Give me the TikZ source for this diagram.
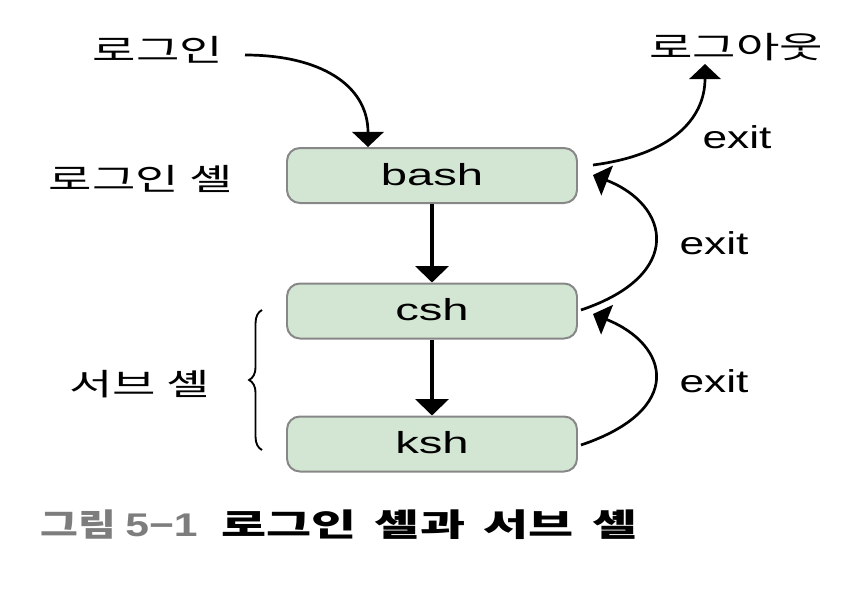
\documentclass[tikz,border=0pt]{standalone}
\usepackage{fontspec}
\usepackage{graphicx}
\setmainfont{Liberation Sans}
\newfontfamily\kr[FakeStretch=1.55]{Noto Sans CJK KR}
\newfontfamily\krcap{Noto Sans CJK KR}
\newfontfamily\boxfont[FakeStretch=1.55]{Liberation Sans}
\newfontfamily\exitfont[FakeStretch=1.4]{Liberation Sans}
\usetikzlibrary{arrows.meta,decorations.pathreplacing}
\definecolor{boxfill}{RGB}{211,229,211}
\definecolor{boxline}{RGB}{135,135,135}
\definecolor{capgray}{RGB}{125,125,125}
\tikzset{
  shellbox/.style={draw=boxline, line width=1.7pt, fill=boxfill, rounded corners=11pt,
    minimum width=290*0.03cm, minimum height=55*0.03cm, inner sep=0pt},
  boxtext/.style={font=\boxfont\fontsize{26}{28}\selectfont, inner sep=0pt, anchor=base},
  krlabel/.style={font=\kr\fontsize{26}{28}\selectfont, inner sep=0pt},
  exitlabel/.style={font=\exitfont\fontsize{27}{29}\selectfont, inner sep=0pt, anchor=base},
  thickarr/.style={line width=3.6pt, -{Triangle[length=14pt,width=28pt]}},
  curvarr/.style={line width=2.3pt, -{Triangle[length=13pt,width=27pt]}},
}
\begin{document}
\begin{tikzpicture}[x=0.03cm,y=-0.03cm]
\useasboundingbox (0,0) rectangle (856,604);
\node[shellbox] (bash) at (432,175.5) {};
\node[shellbox] (csh) at (432,311) {};
\node[shellbox] (ksh) at (432,444) {};
\node[boxtext] (tbash) at (432,185) {bash};
\node[boxtext] (tcsh) at (432,320) {csh};
\node[boxtext] (tksh) at (432,453) {ksh};
\node[krlabel] (login) at (158,50) {로그인};
\node[krlabel] (logout) at (736,47) {로그아웃};
\node[krlabel] (loginsh) at (141,179) {로그인 셸};
\node[krlabel] (subsh) at (140,384) {서브 셸};
\node[exitlabel] (e1) at (737,148) {exit};
\node[exitlabel] (e2) at (714,254) {exit};
\node[exitlabel] (e3) at (714,392) {exit};
\coordinate (a0) at (245,55);
\coordinate (a1) at (368,147);
\draw[curvarr] (a0) .. controls (320,55) and (368,85) .. (a1);
\draw[thickarr] (bash.south) -- (csh.north);
\draw[thickarr] (csh.south) -- (ksh.north);
\coordinate (b0) at (593,165);
\coordinate (b1) at (705,64);
\draw[curvarr] (b0) .. controls (670,155) and (705,120) .. (b1);
\coordinate (c0) at (581,310);
\coordinate (c1) at (593,175);
\draw[curvarr] (c0) .. controls (685,275) and (670,205) .. (c1);
\coordinate (d0) at (581,445);
\coordinate (d1) at (593,314);
\draw[curvarr] (d0) .. controls (685,410) and (670,345) .. (d1);
\coordinate (br0) at (262,450);
\coordinate (br1) at (262,310);
\draw[line width=1.6pt, decorate, decoration={brace, amplitude=11pt}] (br0) -- (br1);
\node[anchor=west, inner sep=0pt, font=\krcap\bfseries\fontsize{27}{29}\selectfont] (cap) at (40,525)
  {\scalebox{1.3}[1]{\textcolor{capgray}{그림 {\rmfamily\bfseries\fontsize{28}{30}\selectfont 5−1}}}\hspace{20pt}\scalebox{1.55}[1]{로그인\hspace{0.15em} 셸과\hspace{0.15em} 서브\hspace{0.15em} 셸}};
\end{tikzpicture}
\end{document}
